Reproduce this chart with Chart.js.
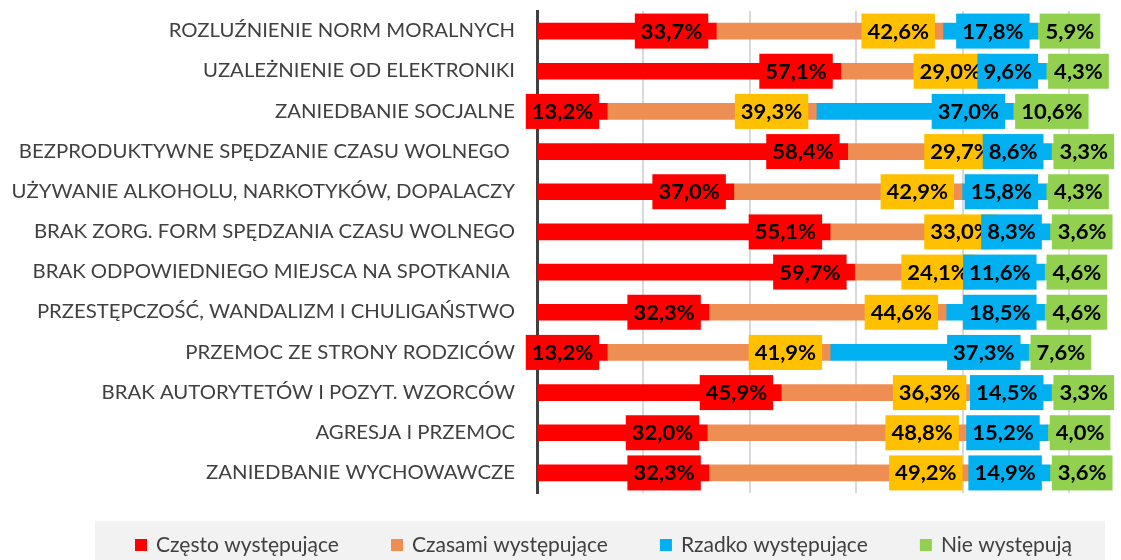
<!DOCTYPE html>
<html>
<head>
<meta charset="utf-8">
<script src="https://cdn.jsdelivr.net/npm/chart.js@4/dist/chart.umd.min.js"></script>
<style>
html,body{margin:0;padding:0;background:#fff;}
#wrap{width:1121px;height:560px;}
</style>
</head>
<body>
<div id="wrap"><canvas id="c" width="1121" height="560"></canvas></div>
<script>
const categories = [
  "ROZLUŹNIENIE NORM MORALNYCH",
  "UZALEŻNIENIE OD ELEKTRONIKI",
  "ZANIEDBANIE SOCJALNE",
  "BEZPRODUKTYWNE SPĘDZANIE CZASU WOLNEGO ",
  "UŻYWANIE ALKOHOLU, NARKOTYKÓW, DOPALACZY",
  "BRAK ZORG. FORM SPĘDZANIA CZASU WOLNEGO",
  "BRAK ODPOWIEDNIEGO MIEJSCA NA SPOTKANIA ",
  "PRZESTĘPCZOŚĆ, WANDALIZM I CHULIGAŃSTWO",
  "PRZEMOC ZE STRONY RODZICÓW",
  "BRAK AUTORYTETÓW I POZYT. WZORCÓW",
  "AGRESJA I PRZEMOC",
  "ZANIEDBANIE WYCHOWAWCZE"
];
const seriesNames = ["Często występujące", "Czasami występujące", "Rzadko występujące", "Nie występują"];
const czesto  = [33.7, 57.1, 13.2, 58.4, 37.0, 55.1, 59.7, 32.3, 13.2, 45.9, 32.0, 32.3];
const czasami = [42.6, 29.0, 39.3, 29.7, 42.9, 33.0, 24.1, 44.6, 41.9, 36.3, 48.8, 49.2];
const rzadko  = [17.8,  9.6, 37.0,  8.6, 15.8,  8.3, 11.6, 18.5, 37.3, 14.5, 15.2, 14.9];
const nie     = [ 5.9,  4.3, 10.6,  3.3,  4.3,  3.6,  4.6,  4.6,  7.6,  3.3,  4.0,  3.6];
const xTicks = [0, 20, 40, 60, 80, 100];

const barColors = ["#FF0000", "#EE8E53", "#00B0F0", "#92D050"];
const labelBg   = ["#FF0000", "#FFC000", "#00B0F0", "#92D050"];
const FONT = "Lato, 'Open Sans', sans-serif";
const CAT_STRETCH = 1.07;
const VAL_STRETCH = 1.1;

class StretchCategory extends Chart.CategoryScale {
  drawLabels(chartArea) {
    const ctx = this.ctx;
    const ax = this.right - this.options.ticks.padding;
    ctx.save();
    ctx.translate(ax, 0);
    ctx.scale(CAT_STRETCH, 1);
    ctx.translate(-ax, 0);
    super.drawLabels(chartArea);
    ctx.restore();
  }
}
StretchCategory.id = 'stretchCategory';
StretchCategory.defaults = Chart.CategoryScale.defaults;
Chart.register(StretchCategory);

const labelPlugin = {
  id: 'valLabels',
  afterDatasetsDraw(chart) {
    const ctx = chart.ctx;
    ctx.save();
    ctx.font = "bold 20px " + FONT;
    ctx.textBaseline = 'middle';
    ctx.textAlign = 'center';
    chart.data.datasets.forEach((ds, di) => {
      const meta = chart.getDatasetMeta(di);
      meta.data.forEach((bar, i) => {
        const v = ds.data[i];
        const txt = v.toFixed(1).replace('.', ',') + '%';
        const tw = ctx.measureText(txt).width * VAL_STRETCH;
        const bw = tw + 12, bh = 35;
        let left;
        if (di === 3) left = bar.base + 2;
        else left = bar.x - 8 - bw;
        const top = bar.y - bh / 2;
        ctx.fillStyle = labelBg[di];
        ctx.fillRect(left, top, bw, bh);
        ctx.fillStyle = '#000';
        const cx = left + bw / 2;
        ctx.save();
        ctx.translate(cx, bar.y + 1);
        ctx.scale(VAL_STRETCH, 1);
        ctx.fillText(txt, 0, 0);
        ctx.restore();
      });
    });
    ctx.restore();
  }
};

const legendPlugin = {
  id: 'customLegend',
  afterDraw(chart) {
    const ctx = chart.ctx;
    ctx.save();
    ctx.fillStyle = '#F2F2F2';
    ctx.fillRect(95, 521, 1010, 39);
    ctx.font = "21px " + FONT;
    ctx.textBaseline = 'middle';
    ctx.textAlign = 'left';
    const sq = 12, gapSq = 9;
    const startX = 135, endX = 1072;
    const widths = seriesNames.map(n => sq + gapSq + ctx.measureText(n).width);
    const sum = widths.reduce((a, b) => a + b, 0);
    const gapItem = (endX - startX - sum) / (seriesNames.length - 1);
    let x = startX;
    const cy = 545;
    seriesNames.forEach((n, i) => {
      ctx.fillStyle = barColors[i];
      ctx.fillRect(x, cy - sq / 2, sq, sq);
      ctx.fillStyle = '#404040';
      ctx.fillText(n, x + sq + gapSq, cy);
      x += widths[i] + gapItem;
    });
    ctx.restore();
  }
};

const seriesData = [czesto, czasami, rzadko, nie];

new Chart(document.getElementById('c'), {
  type: 'bar',
  data: {
    labels: categories,
    datasets: seriesNames.map((n, i) => ({
      label: n,
      data: seriesData[i],
      backgroundColor: barColors[i],
      borderWidth: 0,
      barThickness: 16
    }))
  },
  options: {
    indexAxis: 'y',
    responsive: false,
    devicePixelRatio: 1,
    animation: false,
    layout: { padding: { top: 11, bottom: 67, left: 0, right: 52 } },
    plugins: {
      legend: { display: false },
      tooltip: { enabled: false }
    },
    scales: {
      x: {
        stacked: true,
        min: 0, max: 100,
        afterBuildTicks(scale) { scale.ticks = xTicks.map(v => ({ value: v })); },
        afterFit(scale) { scale.height = 0; scale.paddingLeft = 0; scale.paddingRight = 0; },
        ticks: { display: false },
        grid: { color: '#D9D9D9', lineWidth: 2, drawTicks: false },
        border: { display: false }
      },
      y: {
        type: 'stretchCategory',
        stacked: true,
        afterFit(scale) { scale.width = 537; scale.paddingTop = 0; scale.paddingBottom = 0; },
        ticks: { font: { family: FONT, size: 19 }, color: '#404040', padding: 22 },
        grid: { display: false, drawTicks: false },
        border: { display: true, color: '#404040', width: 3 }
      }
    }
  },
  plugins: [labelPlugin, legendPlugin]
});
</script>
</body>
</html>
